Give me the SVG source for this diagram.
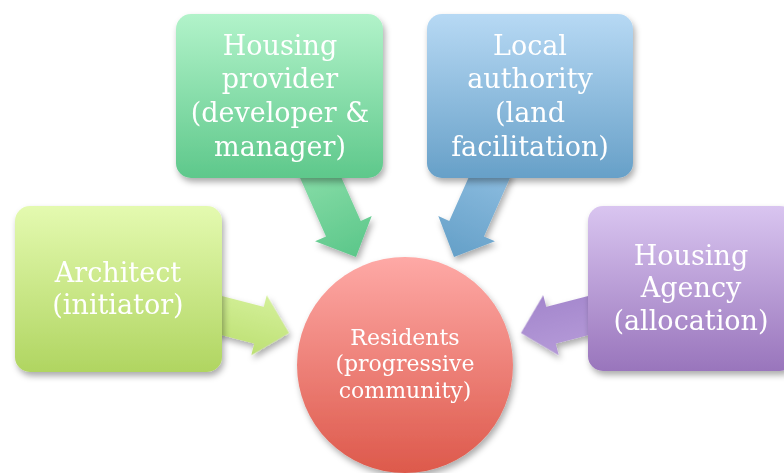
<svg xmlns="http://www.w3.org/2000/svg" width="784" height="473" viewBox="0 0 784 473">
  <defs>
    <linearGradient id="gGreen" x1="0" y1="0" x2="0" y2="1">
      <stop offset="0" stop-color="#b2f3ca"/>
      <stop offset="1" stop-color="#5ec88b"/>
    </linearGradient>
    <linearGradient id="gBlue" x1="0" y1="0" x2="0" y2="1">
      <stop offset="0" stop-color="#b7d9f4"/>
      <stop offset="1" stop-color="#67a0c8"/>
    </linearGradient>
    <linearGradient id="gLime" x1="0" y1="0" x2="0" y2="1">
      <stop offset="0" stop-color="#e4fab0"/>
      <stop offset="1" stop-color="#b0d561"/>
    </linearGradient>
    <linearGradient id="gPurple" x1="0" y1="0" x2="0" y2="1">
      <stop offset="0" stop-color="#d9c5f0"/>
      <stop offset="1" stop-color="#9975bc"/>
    </linearGradient>
    <linearGradient id="gRed" x1="0" y1="0" x2="0" y2="1">
      <stop offset="0" stop-color="#fea9a6"/>
      <stop offset="1" stop-color="#dd594b"/>
    </linearGradient>
    <linearGradient id="aGreen" x1="0" y1="0" x2="1" y2="0">
      <stop offset="0" stop-color="#88dda8"/>
      <stop offset="1" stop-color="#5cc78a"/>
    </linearGradient>
    <linearGradient id="aBlue" x1="0" y1="0" x2="1" y2="0">
      <stop offset="0" stop-color="#8dbde0"/>
      <stop offset="1" stop-color="#65a0c8"/>
    </linearGradient>
    <linearGradient id="aLime" x1="0" y1="0" x2="0" y2="1">
      <stop offset="0" stop-color="#d4f09a"/>
      <stop offset="1" stop-color="#bde073"/>
    </linearGradient>
    <linearGradient id="aPurple" x1="0" y1="0" x2="0" y2="1">
      <stop offset="0" stop-color="#b59ad8"/>
      <stop offset="1" stop-color="#a386cc"/>
    </linearGradient>
    <filter id="shadow" x="-20%" y="-20%" width="140%" height="140%">
      <feDropShadow dx="2" dy="4" stdDeviation="3" flood-color="#000" flood-opacity="0.33"/>
    </filter>
    <!-- block arrow pointing along +x with its tip at the origin -->
    <polygon id="arrow" points="0,0 -31,-31 -31,-19 -100,-19 -100,19 -31,19 -31,31"/>
  </defs>
  <style>
    .lbl { font-family: "DejaVu Serif", "Liberation Serif", serif; font-size: 27px; fill: #ffffff; text-anchor: middle; }
    .small { font-size: 22px; }
    .box { filter: url(#shadow); }
  </style>

  <g id="connectors" filter="url(#shadow)">
    <use href="#arrow" fill="url(#aGreen)" transform="translate(356,257) rotate(66)"/>
    <use href="#arrow" fill="url(#aBlue)" transform="translate(454,257) rotate(114)"/>
    <use href="#arrow" fill="url(#aLime)" transform="translate(289,333) rotate(14.5)"/>
    <use href="#arrow" fill="url(#aPurple)" transform="translate(521,333) rotate(165.5)"/>
  </g>

  <g id="provider">
    <rect class="box" x="176" y="14" width="207" height="164" rx="15" fill="url(#gGreen)"/>
    <text class="lbl" x="280" y="55">Housing</text>
    <text class="lbl" x="280" y="88">provider</text>
    <text class="lbl" x="280" y="122">(developer &amp;</text>
    <text class="lbl" x="280" y="156">manager)</text>
  </g>

  <g id="authority">
    <rect class="box" x="427" y="14" width="206" height="164" rx="15" fill="url(#gBlue)"/>
    <text class="lbl" x="530" y="55">Local</text>
    <text class="lbl" x="530" y="88">authority</text>
    <text class="lbl" x="530" y="122">(land</text>
    <text class="lbl" x="530" y="156">facilitation)</text>
  </g>

  <g id="architect">
    <rect class="box" x="15" y="206" width="207" height="166" rx="15" fill="url(#gLime)"/>
    <text class="lbl" x="118" y="282">Architect</text>
    <text class="lbl" x="118" y="314">(initiator)</text>
  </g>

  <g id="agency">
    <rect class="box" x="588" y="206" width="207" height="165" rx="15" fill="url(#gPurple)"/>
    <text class="lbl" x="691" y="265">Housing</text>
    <text class="lbl" x="691" y="297">Agency</text>
    <text class="lbl" x="691" y="330">(allocation)</text>
  </g>

  <g id="residents">
    <circle class="box" cx="405" cy="365" r="108" fill="url(#gRed)"/>
    <text class="lbl small" x="405" y="345">Residents</text>
    <text class="lbl small" x="405" y="371">(progressive</text>
    <text class="lbl small" x="405" y="398">community)</text>
  </g>
</svg>
